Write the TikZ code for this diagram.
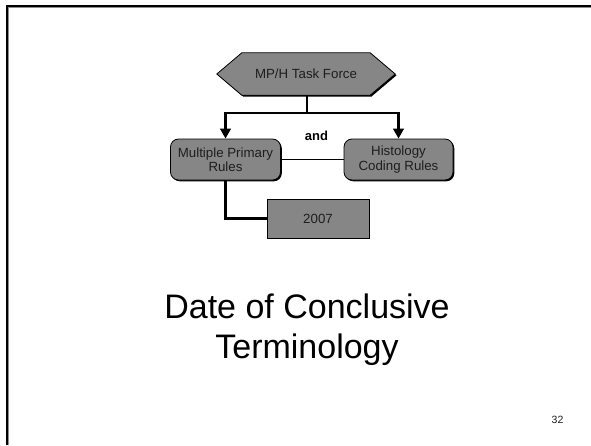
\documentclass[tikz,border=0pt]{standalone}
\usepackage{fontspec}
\setmainfont{Liberation Sans}
\usetikzlibrary{arrows.meta,shadows,backgrounds}
\definecolor{boxgray}{RGB}{134,134,134}
\definecolor{inkgray}{RGB}{30,30,30}
\begin{document}
\begin{tikzpicture}[x=1pt,y=-1pt,
  smalltext/.style={font=\fontsize{13.3}{14.5}\selectfont, text=inkgray},
  shadowed/.style={general shadow={fill=black, shadow xshift=1.3pt, shadow yshift=-1.3pt}},
  rbox/.style={smalltext, fill=boxgray, draw=black, line width=0.8pt, rounded corners=8pt,
    minimum height=41pt, align=center, inner sep=0pt, shadowed},
  sqbox/.style={smalltext, fill=boxgray, draw=black, line width=0.8pt,
    minimum height=39pt, inner sep=0pt, shadowed},
  conn/.style={draw=black, line width=2.6pt},
  tip/.style={-{Triangle[length=10pt,width=10.5pt]}},
  title/.style={font=\fontsize{34}{40}\selectfont, anchor=base, text=black}
]
\useasboundingbox (0,0) rectangle (591,445);
% slide frame
\draw[line width=3pt, black!45] (7,445) -- (7,6) -- (591,6);
\draw[line width=1.8pt, black] (7,445) -- (7,6) -- (591,6);

% nodes
\node[smalltext, minimum width=178pt, minimum height=42pt, inner sep=0pt] (mph) at (306,74) {MP/H Task Force};
\begin{pgfonlayer}{background}
  \fill[white] (0,0) rectangle (591,445);
  \fill[black] ([shift={(1.3pt,-1.3pt)}]mph.west) -- ([shift={(26.3pt,-1.3pt)}]mph.north west) -- ([shift={(-23.7pt,-1.3pt)}]mph.north east) -- ([shift={(1.3pt,-1.3pt)}]mph.east) -- ([shift={(-23.7pt,-1.3pt)}]mph.south east) -- ([shift={(26.3pt,-1.3pt)}]mph.south west) -- cycle;
  \draw[fill=boxgray, line width=0.8pt] (mph.west) -- ([xshift=25pt]mph.north west) -- ([xshift=-25pt]mph.north east) -- (mph.east) -- ([xshift=-25pt]mph.south east) -- ([xshift=25pt]mph.south west) -- cycle;
\end{pgfonlayer}

\node[rbox, minimum width=110pt] (mpr) at (225.5,159.5) {Multiple Primary\\Rules};
\node[rbox, minimum width=109pt] (hcr) at (398.5,159.5) {Histology\\Coding Rules};
\node[sqbox, minimum width=102pt] (y2007) at (318,218.5) {2007};
\node[font=\bfseries\fontsize{13}{15}\selectfont, text=black] (and) at (316.5,136) {and};

% connectors
\coordinate (split) at (307,113);
\draw[conn] (mph.south -| split) -- (split);
\draw[conn, tip] (split) -| (mpr.north);
\draw[conn, tip] (split) -| (hcr.north);
\draw[draw=black, line width=1.8pt] (mpr.east) -- (hcr.west);
\draw[conn] (mpr.south) |- (y2007.west);

% title
\node[title] (t1) at (307,318) {Date of Conclusive};
\node[title] (t2) at (307,358) {Terminology};
\node[font=\fontsize{10.5}{12}\selectfont, anchor=base, text=inkgray] (pg) at (557.5,423) {32};
\end{tikzpicture}
\end{document}
